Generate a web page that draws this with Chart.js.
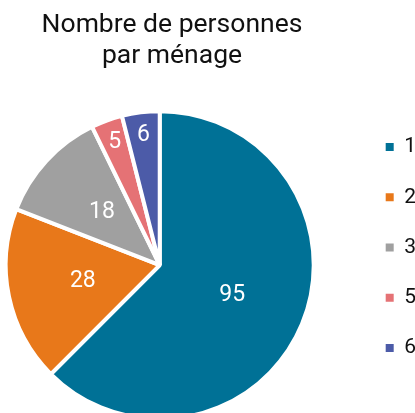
<!DOCTYPE html>
<html><head><meta charset="utf-8">
<script src="https://cdn.jsdelivr.net/npm/chart.js@4.4.1/dist/chart.umd.min.js"></script>
<style>
html,body{margin:0;padding:0;width:415px;height:413px;overflow:hidden;background:#fff;}
body{position:relative;}
#wrap{position:absolute;left:-82px;top:0;width:508px;height:423px;}
</style></head><body>
<div id="wrap"><canvas id="c"></canvas></div>
<script>
const titleLines = ['Nombre de personnes', 'par ménage'];
const categories = ['1', '2', '3', '5', '6'];
const counts = [95, 28, 18, 5, 6];
const sliceColors = ['#007196', '#e8781a', '#a0a0a0', '#e57275', '#4c5ba8'];

const sliceLabels = {
  id: 'sliceLabels',
  afterDatasetsDraw(chart) {
    const meta = chart.getDatasetMeta(0);
    const ds = chart.data.datasets[0].data;
    const total = ds.reduce((a, b) => a + b, 0);
    const ctx = chart.ctx;
    ctx.save();
    ctx.font = '23px Roboto';
    ctx.fillStyle = '#ffffff';
    ctx.textAlign = 'center';
    ctx.textBaseline = 'middle';
    meta.data.forEach((arc, i) => {
      const p = arc.getProps(['x', 'y', 'startAngle', 'endAngle', 'outerRadius'], true);
      const mid = (p.startAngle + p.endAngle) / 2;
      const f = ds[i] / total < 0.05 ? 0.85 : 0.51;
      ctx.fillText(String(ds[i]), p.x + Math.cos(mid) * p.outerRadius * f, p.y + Math.sin(mid) * p.outerRadius * f);
    });
    ctx.restore();
  }
};

new Chart(document.getElementById('c'), {
  type: 'pie',
  data: {
    labels: categories,
    datasets: [{
      data: counts,
      backgroundColor: sliceColors,
      borderColor: '#ffffff',
      borderWidth: 4
    }]
  },
  options: {
    responsive: true,
    maintainAspectRatio: false,
    devicePixelRatio: 1,
    animation: false,
    events: [],
    radius: 154,
    layout: { padding: 0 },
    plugins: {
      tooltip: { enabled: false },
      title: {
        display: true,
        text: titleLines,
        color: '#111111',
        font: { family: 'Roboto', size: 26.5, weight: 'normal', lineHeight: 1.185 },
        padding: { top: 9.5, bottom: 35 }
      },
      subtitle: {
        display: true,
        position: 'left',
        fullSize: false,
        text: ' ',
        font: { size: 10, lineHeight: 1 },
        padding: { top: 0, bottom: 35 }
      },
      legend: {
        position: 'right',
        fullSize: false,
        align: 'start',
        labels: {
          boxWidth: 8,
          boxHeight: 8,
          padding: 29.25,
          color: '#111111',
          font: { family: 'Roboto', size: 21 },
          generateLabels(chart) {
            const items = Chart.overrides.pie.plugins.legend.labels.generateLabels(chart);
            return items.map(it => Object.assign(it, { lineWidth: 0, strokeStyle: 'rgba(0,0,0,0)' }));
          }
        }
      }
    }
  },
  plugins: [sliceLabels]
});
</script>
</body></html>
